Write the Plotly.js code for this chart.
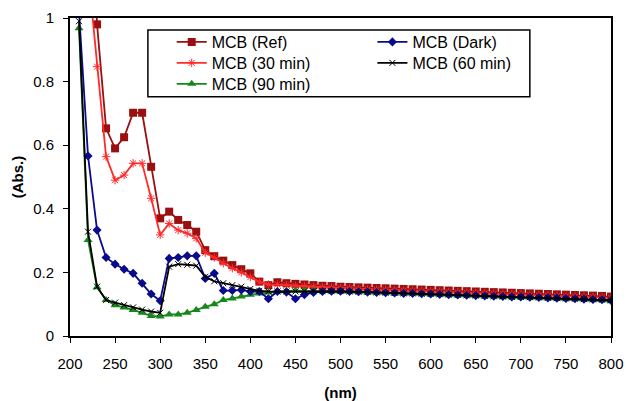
<!DOCTYPE html>
<html>
<head>
<meta charset="utf-8">
<script src="https://cdn.plot.ly/plotly-3.0.1.min.js"></script>
<style>html,body{margin:0;padding:0;background:#fff;}#chart{width:626px;height:401px;}</style>
</head>
<body>
<div id="chart"></div>
<script>
var wavelength = [210,220,230,240,250,260,270,280,290,300,310,320,330,340,350,360,370,380,390,400,
  410,420,430,440,450,460,470,480,490,500,510,520,530,540,550,560,570,580,590,600,
  610,620,630,640,650,660,670,680,690,700,710,720,730,740,750,760,770,780,790,800];

var mcbRef = [null,1.6,0.98,0.653,0.59,0.625,0.702,0.702,0.532,0.37,0.391,0.365,0.349,0.328,0.27,0.251,0.237,0.223,0.21,0.197,
  0.171,0.16,0.169,0.166,0.164,0.162,0.16,0.158,0.157,0.155,0.154,0.153,0.152,0.151,0.15,0.149,0.148,0.147,0.146,0.145,
  0.144,0.143,0.142,0.141,0.14,0.139,0.138,0.137,0.136,0.135,0.134,0.133,0.132,0.131,0.13,0.129,0.128,0.127,0.126,0.124];

var mcb30 = [null,1.15,0.847,0.564,0.49,0.506,0.543,0.543,0.433,0.318,0.354,0.333,0.323,0.307,0.262,0.247,0.229,0.213,0.2,0.185,
  0.17,0.162,0.162,0.16,0.158,0.157,0.155,0.154,0.152,0.151,0.15,0.148,0.147,0.146,0.145,0.144,0.143,0.142,0.141,0.14,
  0.139,0.138,0.137,0.136,0.135,0.134,0.133,0.132,0.131,0.13,0.129,0.128,0.127,0.126,0.125,0.124,0.123,0.122,0.121,0.12];

var mcbDark = [1.02,0.566,0.333,0.247,0.226,0.21,0.197,0.166,0.132,0.111,0.244,0.247,0.252,0.252,0.181,0.197,0.143,0.143,0.145,0.14,
  0.14,0.117,0.14,0.138,0.117,0.13,0.137,0.14,0.141,0.141,0.14,0.139,0.138,0.137,0.136,0.135,0.134,0.134,0.133,0.132,
  0.131,0.13,0.129,0.128,0.127,0.126,0.125,0.124,0.123,0.123,0.122,0.121,0.12,0.119,0.118,0.117,0.116,0.115,0.114,0.112];

var mcb60 = [0.99,0.328,0.155,0.113,0.105,0.097,0.09,0.083,0.077,0.073,0.218,0.226,0.224,0.221,0.186,0.172,0.166,0.16,0.155,0.148,
  0.142,0.14,0.14,0.14,0.14,0.141,0.141,0.141,0.141,0.141,0.14,0.139,0.138,0.137,0.136,0.135,0.134,0.134,0.133,0.132,
  0.131,0.13,0.129,0.128,0.127,0.126,0.125,0.124,0.123,0.123,0.122,0.121,0.12,0.119,0.118,0.117,0.116,0.115,0.114,0.112];

var mcb90 = [0.968,0.302,0.153,0.113,0.097,0.09,0.082,0.073,0.063,0.061,0.068,0.068,0.073,0.082,0.092,0.1,0.113,0.118,0.124,0.13,
  0.134,0.137,0.14,0.142,0.143,0.143,0.142,0.142,0.141,0.14,0.139,0.138,0.137,0.136,0.135,0.134,0.133,0.133,0.132,0.131,
  0.13,0.129,0.128,0.127,0.126,0.125,0.124,0.123,0.122,0.122,0.121,0.12,0.119,0.118,0.117,0.116,0.115,0.114,0.113,0.11];

var xTickVals = [200,250,300,350,400,450,500,550,600,650,700,750,800];
var yTickVals = [0,0.2,0.4,0.6,0.8,1];
var yTickText = ['0','0.2','0.4','0.6','0.8','1'];

function tr(name, y, color, sym, msize, lg, mlw) {
  return {
    x: wavelength, y: y, name: name, type: 'scatter', mode: 'lines+markers',
    line: {color: color, width: 1.8},
    marker: {symbol: sym, size: msize, color: color, line: {color: color, width: mlw || 0}},
    legend: lg, connectgaps: false, cliponaxis: true
  };
}

var data = [
  tr('MCB (Ref)', mcbRef, '#9a1010', 'square', 8, 'legend'),
  tr('MCB (30 min)', mcb30, '#ff2a2a', 'asterisk-open', 7, 'legend2', 1),
  tr('MCB (90 min)', mcb90, '#14881a', 'triangle-up', 8, 'legend3'),
  tr('MCB (Dark)', mcbDark, '#0a0a8c', 'diamond', 7, 'legend4'),
  tr('MCB (60 min)', mcb60, '#000000', 'x-thin-open', 6, 'legend5', 1)
];

var legFont = {family: 'Liberation Sans, Arial, sans-serif', size: 16, color: '#000'};
function leg(x, y) {
  return {x: x, y: y, xanchor: 'left', yanchor: 'top', bgcolor: 'rgba(0,0,0,0)', borderwidth: 0, font: legFont};
}

var layout = {
  width: 626, height: 401,
  margin: {l: 70, r: 15, t: 18, b: 65},
  paper_bgcolor: '#fff', plot_bgcolor: '#fff',
  font: {family: 'Liberation Sans, Arial, sans-serif', size: 15, color: '#000'},
  xaxis: {
    range: [200, 800], tickvals: xTickVals, ticks: 'outside', ticklen: 5, tickcolor: '#000',
    showline: true, linecolor: '#000', linewidth: 2, mirror: true, showgrid: false, zeroline: false,
    tickfont: {size: 15}, ticklabelstandoff: 8,
    title: {text: '<b>(nm)</b>', font: {size: 15}, standoff: 18}
  },
  yaxis: {
    range: [0, 1], tickvals: yTickVals, ticktext: yTickText, ticks: 'outside', ticklen: 5, tickcolor: '#000',
    showline: true, linecolor: '#000', linewidth: 2, mirror: true, showgrid: false, zeroline: false,
    tickfont: {size: 15}, ticklabelstandoff: 6,
    title: {text: '<b>(Abs.)</b>', font: {size: 15}, standoff: 6}
  },
  showlegend: true,
  legend: leg(0.188, 0.978),
  legend2: leg(0.188, 0.912),
  legend3: leg(0.188, 0.846),
  legend4: leg(0.559, 0.978),
  legend5: leg(0.559, 0.912),
  shapes: [{type: 'rect', xref: 'paper', yref: 'paper', x0: 0.144, x1: 0.85, y0: 0.752, y1: 0.962,
    line: {color: '#000', width: 1.5}, fillcolor: '#fff', layer: 'above'}]
};

Plotly.newPlot('chart', data, layout, {displayModeBar: false, staticPlot: true});
</script>
</body>
</html>
